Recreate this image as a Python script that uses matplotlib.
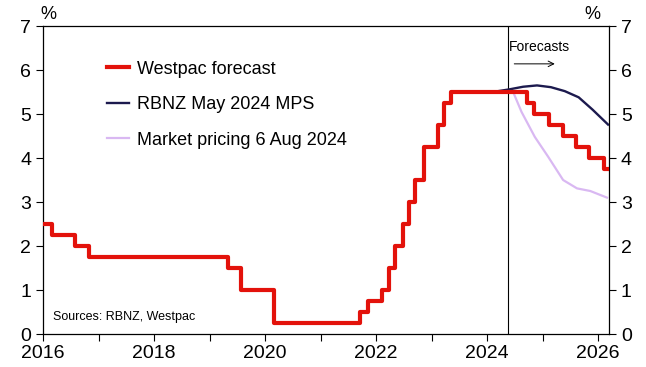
import numpy as np
import matplotlib.pyplot as plt

plt.rcParams['font.family'] = ['Liberation Sans', 'DejaVu Sans']

# OCR history + Westpac forecast (step changes, decimal years)
wbc_dates = [2016.0, 2016.16, 2016.58, 2016.83, 2019.33, 2019.56, 2020.17,
             2021.71, 2021.86, 2022.11, 2022.24, 2022.35, 2022.49, 2022.6,
             2022.71, 2022.86, 2023.12, 2023.22, 2023.35, 2024.72, 2024.85,
             2025.12, 2025.37, 2025.6, 2025.84, 2026.1, 2026.2]
wbc_rate = [2.5, 2.25, 2.0, 1.75, 1.5, 1.0, 0.25,
            0.5, 0.75, 1.0, 1.5, 2.0, 2.5, 3.0,
            3.5, 4.25, 4.75, 5.25, 5.5, 5.25, 5.0,
            4.75, 4.5, 4.25, 4.0, 3.75, 3.75]

# RBNZ May 2024 MPS track
rbnz_dates = [2024.1, 2024.4, 2024.65, 2024.9, 2025.15, 2025.4, 2025.65, 2025.9, 2026.18]
rbnz_rate = [5.5, 5.56, 5.62, 5.65, 5.61, 5.52, 5.38, 5.1, 4.76]

# Market pricing 6 Aug 2024
mkt_dates = [2024.47, 2024.62, 2024.86, 2025.1, 2025.37, 2025.62, 2025.86, 2026.16]
mkt_rate = [5.5, 5.05, 4.48, 4.03, 3.5, 3.31, 3.25, 3.1]

forecast_start = 2024.38

fig = plt.figure(figsize=(6.46, 3.67), dpi=100)
ax = fig.add_axes([0.0666, 0.0899, 0.8764, 0.8392])

ax.plot(rbnz_dates, rbnz_rate, color='#1c1a4e', lw=1.7, label='RBNZ May 2024 MPS', zorder=3)
ax.plot(mkt_dates, mkt_rate, color='#d9b8f2', lw=1.6, label='Market pricing 6 Aug 2024', zorder=2)
ax.step(wbc_dates, wbc_rate, where='post', color='#e3120b', lw=3, label='Westpac forecast', zorder=4)

ax.axvline(forecast_start, color='black', lw=0.8, zorder=1)
ax.text(forecast_start + 0.02, 6.52, 'Forecasts', fontsize=10, va='center', ha='left')
ax.annotate('', xy=(2025.27, 6.14), xytext=(forecast_start + 0.06, 6.14),
            arrowprops=dict(arrowstyle='->', color='black', lw=0.7))

ax.text(2016.18, 0.39, 'Sources: RBNZ, Westpac', fontsize=9, ha='left', va='center')

ax.set_xlim(2016, 2026.2)
ax.set_ylim(0, 7)
ax.set_xticks(np.arange(2016, 2027, 1))
ax.set_xticklabels([str(y) if y % 2 == 0 else '' for y in range(2016, 2027)])
ax.set_yticks(range(0, 8))
ax.tick_params(axis='both', labelsize=14, direction='out', length=5, width=0.8)
ax.tick_params(axis='y', right=True, labelright=True)
ax.tick_params(axis='x', pad=3)
for s in ax.spines.values():
    s.set_linewidth(0.9)

ax.text(-0.005, 1.01, '%', transform=ax.transAxes, fontsize=13, ha='left', va='bottom')
ax.text(0.985, 1.01, '%', transform=ax.transAxes, fontsize=13, ha='right', va='bottom')

h, l = ax.get_legend_handles_labels()
order = [2, 0, 1]
ax.legend([h[i] for i in order], [l[i] for i in order], loc='upper left',
          bbox_to_anchor=(0.085, 0.94), frameon=False, fontsize=13,
          handlelength=1.2, handletextpad=0.45, labelspacing=1.02)

fig.savefig('out.png', dpi=100)
